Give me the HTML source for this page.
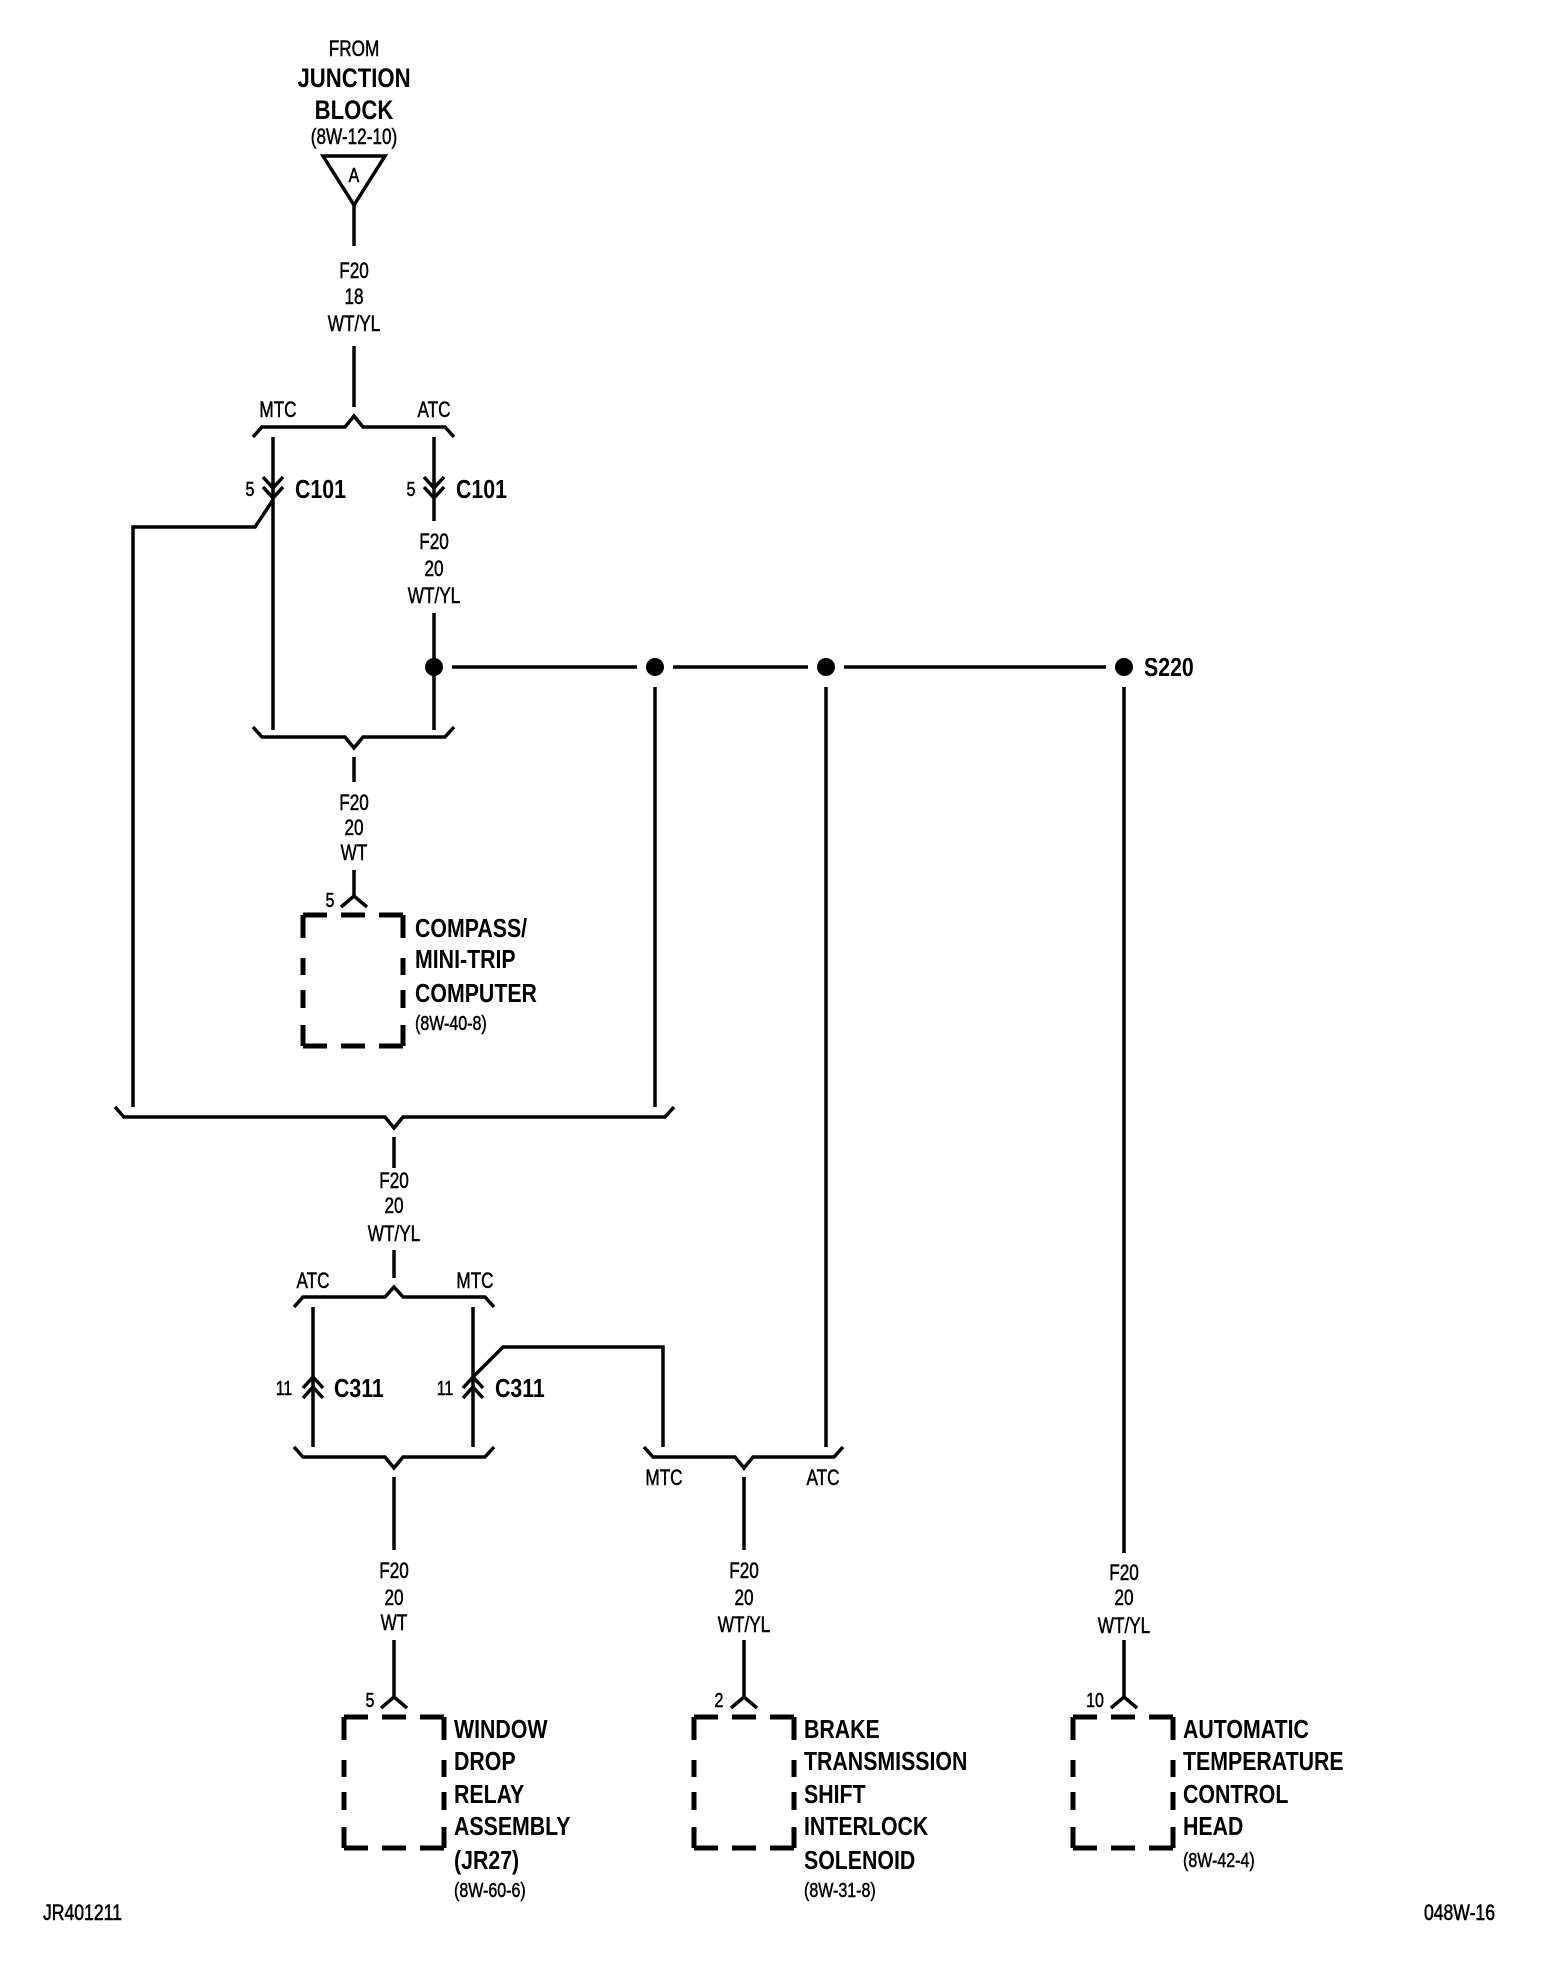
<!DOCTYPE html>
<html><head><meta charset="utf-8"><style>
html,body{margin:0;padding:0;background:#fff}
svg{display:block}
.n{font-family:"Liberation Sans",sans-serif;font-size:22px;fill:#000;stroke:#000;stroke-width:0.5}
.s{font-family:"Liberation Sans",sans-serif;font-size:20px;fill:#000;stroke:#000;stroke-width:0.5}
.f{font-family:"Liberation Sans",sans-serif;font-size:22px;fill:#000;stroke:#000;stroke-width:0.6}
.b{font-family:"Liberation Sans",sans-serif;font-size:26px;font-weight:bold;fill:#000}
.bb{font-family:"Liberation Sans",sans-serif;font-size:27px;font-weight:bold;fill:#000}
.w{stroke:#000;stroke-width:3.5;fill:none}
.d{stroke:#000;stroke-width:5;fill:none}
</style></head><body>
<svg width="1568" height="1976" viewBox="0 0 1568 1976" xmlns="http://www.w3.org/2000/svg">
<defs>
<g id="box"><path class="d" d="M0,0H24M38,0H62M76,0H100M0,131H24M38,131H62M76,131H100M0,0V23M0,43V60M0,75V93M0,110V131M100,0V23M100,43V60M100,75V93M100,110V131"/></g>
</defs>
<text class="n" text-anchor="middle" transform="translate(354,56) scale(.78,1)">FROM</text>
<text class="bb" text-anchor="middle" transform="translate(354,87) scale(.82,1)">JUNCTION</text>
<text class="bb" text-anchor="middle" transform="translate(354,119) scale(.82,1)">BLOCK</text>
<text class="n" text-anchor="middle" transform="translate(354,144) scale(.78,1)">(8W-12-10)</text>
<polygon class="w" points="323,156 385,156 354,205"/>
<text class="s" text-anchor="middle" transform="translate(354,182) scale(.8,1)">A</text>
<path class="w" d="M354,205V246"/>
<text class="n" text-anchor="middle" transform="translate(354,278) scale(.78,1)">F20</text>
<text class="n" text-anchor="middle" transform="translate(354,304) scale(.78,1)">18</text>
<text class="n" text-anchor="middle" transform="translate(354,331) scale(.78,1)">WT/YL</text>
<path class="w" d="M354,346V407"/>
<path class="w" d="M253,437L262,427H345L354,416L363,427H445L454,437"/>
<text class="n" text-anchor="middle" transform="translate(278,417) scale(.78,1)">MTC</text>
<text class="n" text-anchor="middle" transform="translate(434,417) scale(.78,1)">ATC</text>
<path class="w" d="M273,437V730"/>
<path class="w" d="M263,477L273,488L283,477M263,487L273,498L283,487"/>
<path class="w" d="M273,500L255,527H133V1107"/>
<text class="s" text-anchor="middle" transform="translate(250,496) scale(.8,1)">5</text>
<text class="b" transform="translate(295,498) scale(.82,1)">C101</text>
<path class="w" d="M434,437V521"/>
<path class="w" d="M424,477L434,488L444,477M424,487L434,498L444,487"/>
<text class="s" text-anchor="middle" transform="translate(411,496) scale(.8,1)">5</text>
<text class="b" transform="translate(456,498) scale(.82,1)">C101</text>
<text class="n" text-anchor="middle" transform="translate(434,549) scale(.78,1)">F20</text>
<text class="n" text-anchor="middle" transform="translate(434,576) scale(.78,1)">20</text>
<text class="n" text-anchor="middle" transform="translate(434,603) scale(.78,1)">WT/YL</text>
<path class="w" d="M434,613V667V730"/>
<circle cx="434" cy="667" r="9"/><circle cx="655" cy="667" r="9"/><circle cx="826" cy="667" r="9"/><circle cx="1124" cy="667" r="9"/>
<path class="w" d="M452,667H637M673,667H808M844,667H1106"/>
<text class="b" transform="translate(1144,676) scale(.82,1)">S220</text>
<path class="w" d="M655,687V1107M826,687V1447M1124,687V1553"/>
<path class="w" d="M253,727L262,737H345L354,748L363,737H445L454,727"/>
<path class="w" d="M354,757V782"/>
<text class="n" text-anchor="middle" transform="translate(354,810) scale(.78,1)">F20</text>
<text class="n" text-anchor="middle" transform="translate(354,835) scale(.78,1)">20</text>
<text class="n" text-anchor="middle" transform="translate(354,860) scale(.78,1)">WT</text>
<path class="w" d="M354,870V897M341,907L354,896L367,907"/>
<text class="s" text-anchor="middle" transform="translate(330,907) scale(.8,1)">5</text>
<use href="#box" transform="translate(303,915)"/>
<text class="b" transform="translate(415,937) scale(.82,1)">COMPASS/</text>
<text class="b" transform="translate(415,968) scale(.82,1)">MINI-TRIP</text>
<text class="b" transform="translate(415,1002) scale(.82,1)">COMPUTER</text>
<text class="s" transform="translate(415,1030) scale(.8,1)">(8W-40-8)</text>
<path class="w" d="M115,1107L124,1117H385L394,1128L403,1117H665L674,1107"/>
<path class="w" d="M394,1137V1168"/>
<text class="n" text-anchor="middle" transform="translate(394,1188) scale(.78,1)">F20</text>
<text class="n" text-anchor="middle" transform="translate(394,1213) scale(.78,1)">20</text>
<text class="n" text-anchor="middle" transform="translate(394,1241) scale(.78,1)">WT/YL</text>
<path class="w" d="M394,1250V1278"/>
<path class="w" d="M294,1307L303,1297H385L394,1287L403,1297H485L494,1307"/>
<text class="n" text-anchor="middle" transform="translate(313,1288) scale(.78,1)">ATC</text>
<text class="n" text-anchor="middle" transform="translate(475,1288) scale(.78,1)">MTC</text>
<path class="w" d="M313,1307V1447M473,1307V1447"/>
<path class="w" d="M303,1388L313,1377L323,1388M303,1398L313,1387L323,1398"/>
<path class="w" d="M463,1388L473,1377L483,1388M463,1398L473,1387L483,1398"/>
<path class="w" d="M473,1377L503,1347H663V1447"/>
<text class="s" text-anchor="middle" transform="translate(284,1395) scale(.8,1)">11</text>
<text class="s" text-anchor="middle" transform="translate(445,1395) scale(.8,1)">11</text>
<text class="b" transform="translate(334,1397) scale(.82,1)">C311</text>
<text class="b" transform="translate(495,1397) scale(.82,1)">C311</text>
<path class="w" d="M294,1447L303,1457H385L394,1468L403,1457H485L494,1447"/>
<path class="w" d="M644,1447L653,1457H735L744,1468L753,1457H834L843,1447"/>
<text class="n" text-anchor="middle" transform="translate(664,1485) scale(.78,1)">MTC</text>
<text class="n" text-anchor="middle" transform="translate(823,1485) scale(.78,1)">ATC</text>
<path class="w" d="M394,1477V1550M744,1477V1550"/>
<text class="n" text-anchor="middle" transform="translate(394,1578) scale(.78,1)">F20</text>
<text class="n" text-anchor="middle" transform="translate(394,1605) scale(.78,1)">20</text>
<text class="n" text-anchor="middle" transform="translate(394,1630) scale(.78,1)">WT</text>
<text class="n" text-anchor="middle" transform="translate(744,1578) scale(.78,1)">F20</text>
<text class="n" text-anchor="middle" transform="translate(744,1605) scale(.78,1)">20</text>
<text class="n" text-anchor="middle" transform="translate(744,1632) scale(.78,1)">WT/YL</text>
<text class="n" text-anchor="middle" transform="translate(1124,1580) scale(.78,1)">F20</text>
<text class="n" text-anchor="middle" transform="translate(1124,1605) scale(.78,1)">20</text>
<text class="n" text-anchor="middle" transform="translate(1124,1633) scale(.78,1)">WT/YL</text>
<path class="w" d="M394,1640V1697M381,1708L394,1697L407,1708"/>
<path class="w" d="M744,1640V1697M731,1708L744,1697L757,1708"/>
<path class="w" d="M1124,1640V1697M1111,1708L1124,1697L1137,1708"/>
<text class="s" text-anchor="middle" transform="translate(370,1707) scale(.8,1)">5</text>
<text class="s" text-anchor="middle" transform="translate(719,1707) scale(.8,1)">2</text>
<text class="s" text-anchor="middle" transform="translate(1095,1707) scale(.8,1)">10</text>
<use href="#box" transform="translate(344,1717)"/>
<use href="#box" transform="translate(694,1717)"/>
<use href="#box" transform="translate(1073,1717)"/>
<text class="b" transform="translate(454,1738) scale(.82,1)">WINDOW</text>
<text class="b" transform="translate(454,1770) scale(.82,1)">DROP</text>
<text class="b" transform="translate(454,1803) scale(.82,1)">RELAY</text>
<text class="b" transform="translate(454,1835) scale(.82,1)">ASSEMBLY</text>
<text class="b" transform="translate(454,1869) scale(.82,1)">(JR27)</text>
<text class="s" transform="translate(454,1897) scale(.8,1)">(8W-60-6)</text>
<text class="b" transform="translate(804,1738) scale(.82,1)">BRAKE</text>
<text class="b" transform="translate(804,1770) scale(.82,1)">TRANSMISSION</text>
<text class="b" transform="translate(804,1803) scale(.82,1)">SHIFT</text>
<text class="b" transform="translate(804,1835) scale(.82,1)">INTERLOCK</text>
<text class="b" transform="translate(804,1869) scale(.82,1)">SOLENOID</text>
<text class="s" transform="translate(804,1897) scale(.8,1)">(8W-31-8)</text>
<text class="b" transform="translate(1183,1738) scale(.82,1)">AUTOMATIC</text>
<text class="b" transform="translate(1183,1770) scale(.82,1)">TEMPERATURE</text>
<text class="b" transform="translate(1183,1803) scale(.82,1)">CONTROL</text>
<text class="b" transform="translate(1183,1835) scale(.82,1)">HEAD</text>
<text class="s" transform="translate(1183,1867) scale(.8,1)">(8W-42-4)</text>
<text class="f" transform="translate(43,1920) scale(.8,1)">JR401211</text>
<text class="f" text-anchor="end" transform="translate(1495,1920) scale(.8,1)">048W-16</text>
</svg>
</body></html>
